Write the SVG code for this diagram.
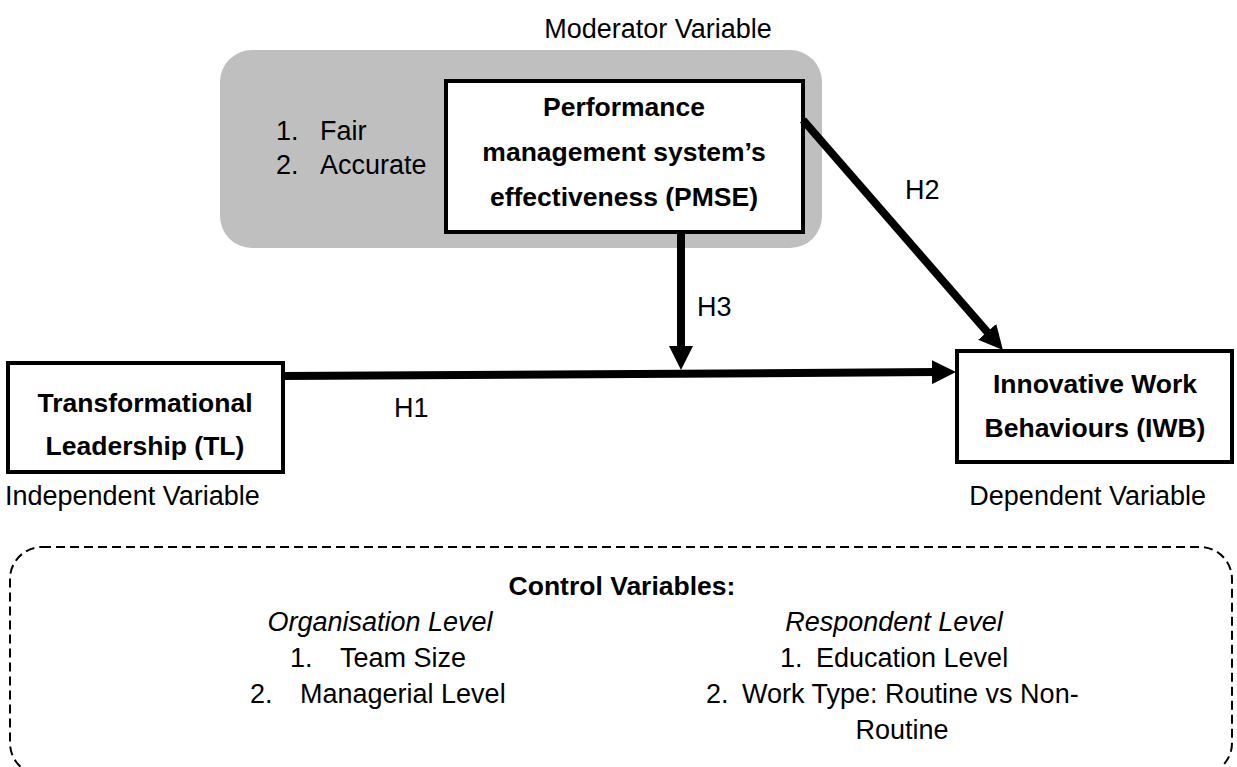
<svg xmlns="http://www.w3.org/2000/svg" width="1237" height="767" viewBox="0 0 1237 767">
  <style>
    text { font-family: "Liberation Sans", Arial, sans-serif; font-size: 27px; fill: #000; }
    .b { font-weight: bold; font-size: 26.5px; }
    .i { font-style: italic; }
    .c { text-anchor: middle; }
    .box { fill: #fff; stroke: #000; stroke-width: 4; }
    .link { stroke: #000; stroke-width: 8; fill: none; marker-end: url(#head); }
  </style>
  <defs>
    <marker id="head" markerUnits="userSpaceOnUse" markerWidth="24" markerHeight="24" refX="4" refY="12" orient="auto">
      <path d="M0,0 L24,12 L0,24 z" fill="#000"/>
    </marker>
  </defs>

  <rect width="1237" height="767" fill="#fff"/>

  <!-- moderator panel -->
  <g id="moderator">
    <text class="c" x="658" y="38">Moderator Variable</text>
    <rect x="220" y="50" width="602" height="198" rx="32" fill="#bfbfbf"/>
    <text x="276" y="140">1.</text>
    <text x="320" y="140">Fair</text>
    <text x="276" y="174">2.</text>
    <text x="320" y="174">Accurate</text>
  </g>

  <g id="pmse">
    <rect class="box" x="446" y="81" width="357" height="151"/>
    <text class="b c" x="624" y="116">Performance</text>
    <text class="b c" x="624" y="161">management system’s</text>
    <text class="b c" x="624" y="206">effectiveness (PMSE)</text>
  </g>

  <g id="tl">
    <rect class="box" x="8" y="363" width="275" height="109"/>
    <text class="b c" x="145" y="412">Transformational</text>
    <text class="b c" x="145" y="455">Leadership (TL)</text>
    <text x="5" y="505">Independent Variable</text>
  </g>

  <g id="iwb">
    <rect class="box" x="957" y="351" width="275" height="111"/>
    <text class="b c" x="1095" y="393">Innovative Work</text>
    <text class="b c" x="1095" y="437">Behaviours (IWB)</text>
    <text x="1206" y="505" text-anchor="end">Dependent Variable</text>
  </g>

  <!-- hypothesised paths -->
  <g id="connectors">
    <line class="link" x1="283" y1="376" x2="936" y2="372.1"/>
    <line class="link" x1="681" y1="232" x2="681" y2="350"/>
    <line class="link" x1="803" y1="120" x2="989.8" y2="334.9"/>
    <text x="394" y="417">H1</text>
    <text x="697" y="316">H3</text>
    <text x="905" y="199">H2</text>
  </g>

  <!-- control variables -->
  <g id="controls">
    <rect x="10" y="547" width="1222" height="228" rx="32" fill="none" stroke="#000" stroke-width="2" stroke-dasharray="9 5"/>
    <text class="b c" x="622" y="595">Control Variables:</text>
    <text class="i c" x="380" y="631">Organisation Level</text>
    <text x="290" y="667">1.</text>
    <text x="340" y="667">Team Size</text>
    <text x="250" y="703">2.</text>
    <text x="300" y="703">Managerial Level</text>
    <text class="i c" x="894" y="631">Respondent Level</text>
    <text x="780" y="667">1.</text>
    <text x="816" y="667">Education Level</text>
    <text x="706" y="703">2.</text>
    <text x="742" y="703">Work Type: Routine vs Non-</text>
    <text class="c" x="902" y="739">Routine</text>
  </g>
</svg>
